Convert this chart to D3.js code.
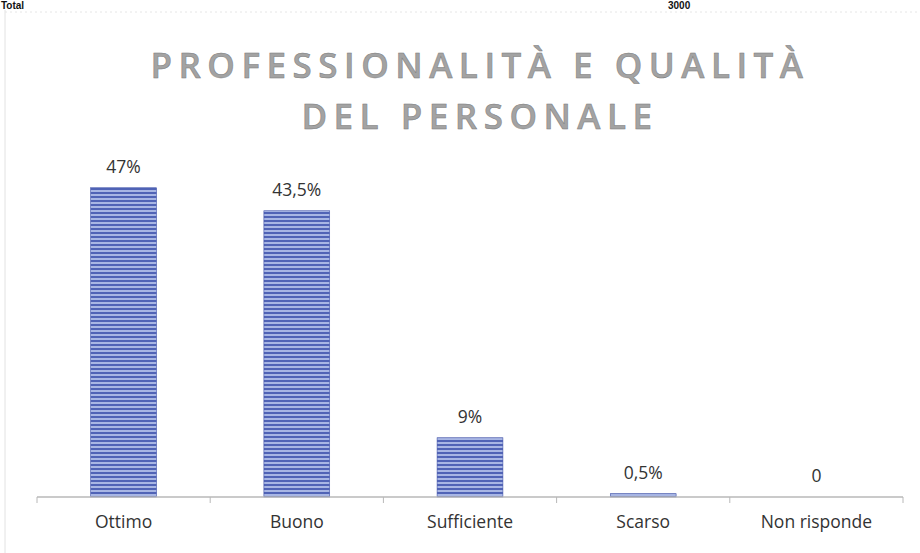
<!DOCTYPE html>
<html><head><meta charset="utf-8">
<script src="https://cdn.jsdelivr.net/npm/d3@7"></script>
<style>body{margin:0;background:#fff}svg{display:block}</style>
</head><body>
<script>
const categories = ["Ottimo","Buono","Sufficiente","Scarso","Non risponde"];
const values = [47, 43.5, 9, 0.5, 0];
const valueLabels = ["47%","43,5%","9%","0,5%","0"];
const titleLines = ["PROFESSIONALITÀ E QUALITÀ","DEL PERSONALE"];
const headerTexts = [{t:"Total", x:1}, {t:"3000", x:668}];

const W = 920, H = 553;
const svg = d3.select("body").append("svg").attr("width", W).attr("height", H);

const defs = svg.append("defs");
const pat = defs.append("pattern").attr("id","stripes").attr("patternUnits","userSpaceOnUse")
  .attr("width", 8).attr("height", 4);
pat.append("rect").attr("width",8).attr("height",4).attr("fill","#a8b6e4");
pat.append("rect").attr("y",0).attr("width",8).attr("height",2).attr("fill","#5063b6");

// frame remnants
svg.append("line").attr("x1",5).attr("x2",5).attr("y1",10).attr("y2",H).attr("stroke","#e2e2e2");
svg.append("line").attr("x1",5).attr("x2",W).attr("y1",12).attr("y2",12).attr("stroke","#e6e6e6").attr("stroke-dasharray","2,3");
svg.append("g").selectAll("text").data(headerTexts).join("text")
  .attr("x",d=>d.x).attr("y",9).attr("font-family","Liberation Sans, Arial").attr("font-weight","bold")
  .attr("font-size",10).attr("fill","#111").text(d=>d.t);

const x = d3.scaleBand().domain(categories).range([37, 903]).paddingInner(0.62).paddingOuter(0.31);
const y = d3.scaleLinear().domain([0, 50]).range([497, 168]);

// title
svg.append("g").selectAll("text").data(titleLines).join("text")
  .attr("x", 480).attr("y", (d,i)=> 78 + i*51)
  .attr("text-anchor","middle")
  .attr("font-family","Open Sans, sans-serif")
  .attr("font-weight", 600)
  .attr("font-size", 35)
  .attr("letter-spacing", "6.5px")
  .attr("fill","#a3a3a3")
  .attr("stroke","#7a7a7a").attr("stroke-width",0.5)
  .text(d=>d);

// bars
svg.append("g").selectAll("rect").data(values).join("rect")
  .attr("x", (d,i)=> x(categories[i]))
  .attr("width", x.bandwidth())
  .attr("y", d=> y(d))
  .attr("height", d=> y(0)-y(d))
  .attr("fill","url(#stripes)")
  .attr("stroke","#3f51a8").attr("stroke-width",0.6);

// axis
const axisG = svg.append("g").attr("transform","translate(0,497)");
axisG.append("line").attr("x1",37).attr("x2",903).attr("stroke","#b8b8b8").attr("stroke-width",1.5);
const bounds = d3.range(categories.length+1).map(i=> 37 + i*x.step());
axisG.selectAll("line.tick").data(bounds).join("line").attr("class","tick")
  .attr("x1",d=>d).attr("x2",d=>d).attr("y1",0).attr("y2",6).attr("stroke","#b8b8b8");
axisG.selectAll("text").data(categories).join("text")
  .attr("x", d=> x(d)+x.bandwidth()/2).attr("y", 31)
  .attr("text-anchor","middle").attr("font-family","Open Sans, sans-serif")
  .attr("font-size",17.5).attr("fill","#333").text(d=>d);

// value labels
svg.append("g").selectAll("text").data(values).join("text")
  .attr("x",(d,i)=> x(categories[i]) + x.bandwidth()/2)
  .attr("y", d=> y(d) - 15)
  .attr("text-anchor","middle").attr("font-family","Open Sans, sans-serif")
  .attr("font-size",17.5).attr("fill","#333")
  .text((d,i)=> valueLabels[i]);
</script>
</body></html>
